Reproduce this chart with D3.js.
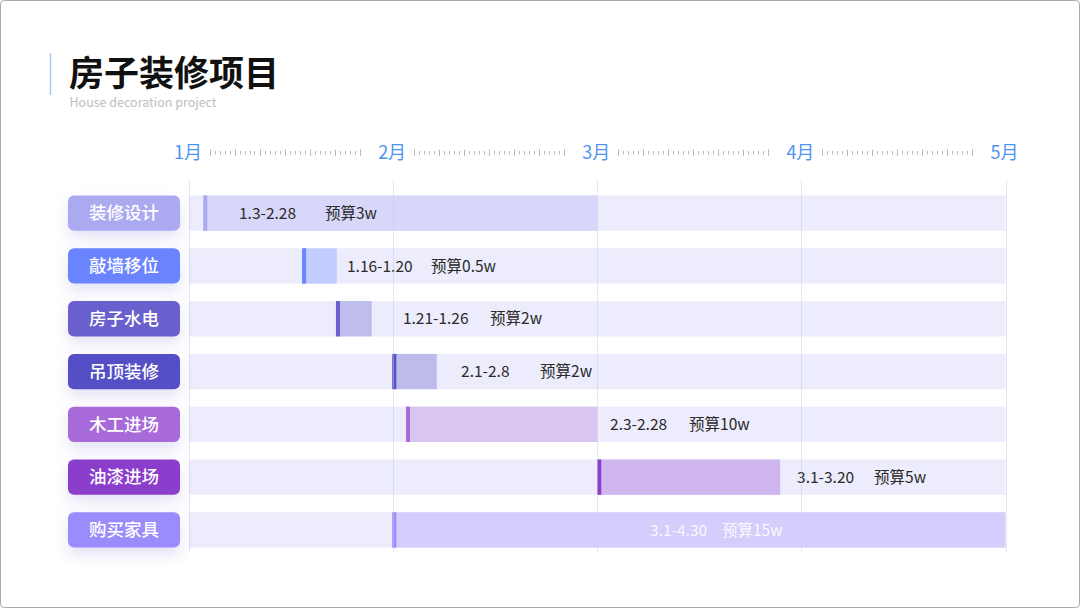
<!DOCTYPE html>
<html>
<head>
<meta charset="utf-8">
<script src="https://cdn.jsdelivr.net/npm/d3@7"></script>
<style>
  body { margin: 0; background: #fff; }
  svg { display: block; font-family: "Noto Sans CJK SC", "Noto Sans", sans-serif; }
</style>
</head>
<body>
<svg id="chart" width="1080" height="608"></svg>
<script>
// data
var tasks = ["装修设计", "敲墙移位", "房子水电", "吊顶装修", "木工进场", "油漆进场", "购买家具"];
// bar start / end in month units (1 = start of 1月)
var starts = [1.07, 1.554, 1.72, 1.996, 2.063, 3.0, 1.996];
var ends   = [3.0, 1.724, 1.895, 2.214, 3.0, 3.896, 5.0];
var dateLabels   = ["1.3-2.28", "1.16-1.20", "1.21-1.26", "2.1-2.8", "2.3-2.28", "3.1-3.20", "3.1-4.30"];
var budgetLabels = ["预算3w", "预算0.5w", "预算2w", "预算2w", "预算10w", "预算5w", "预算15w"];
// where each annotation piece starts, in month units
var dateAt   = [1.245, 1.774, 2.048, 2.333, 3.063, 3.979, 3.259];
var budgetAt = [1.666, 2.186, 2.475, 2.720, 3.450, 4.356, 3.611];
var months = ["1月", "2月", "3月", "4月", "5月"];

var tagColors = ["#aba9f0", "#6b84ff", "#6a60cd", "#5450c6", "#a86bd9", "#8b3ccb", "#9b8cfb"];
var barColors = ["#d8d7f9", "#c3ccff", "#bebdeb", "#bdbbea", "#d8c5f1", "#d0b6ee", "#d5cdfc"];

var svg = d3.select("#chart");

// outer frame
svg.append("rect")
    .attr("x", 0.5).attr("y", 0.5)
    .attr("width", 1079).attr("height", 607)
    .attr("rx", 4)
    .attr("fill", "#fff")
    .attr("stroke", "#a8a8a8");

var defs = svg.append("defs");
var shadow = defs.append("filter").attr("id", "shadow")
    .attr("x", "-30%").attr("y", "-40%").attr("width", "160%").attr("height", "220%");
shadow.append("feDropShadow")
    .attr("dx", 0).attr("dy", 7)
    .attr("stdDeviation", 7)
    .attr("flood-color", "#6a60cd")
    .attr("flood-opacity", 0.18);

// title block
svg.append("line")
    .attr("x1", 50.5).attr("x2", 50.5)
    .attr("y1", 53).attr("y2", 95)
    .attr("stroke", "#a9c8f7").attr("stroke-width", 1.5);

svg.append("text")
    .attr("x", 69).attr("y", 86)
    .attr("font-size", 35).attr("font-weight", 700)
    .attr("fill", "#111")
    .text("房子装修项目");

svg.append("text")
    .attr("x", 69.5).attr("y", 107)
    .attr("font-size", 12.5)
    .attr("fill", "#c0c0c0")
    .text("House decoration project");

// scales
var x = d3.scaleLinear().domain([1, 5]).range([189, 1005.5]);
var y = d3.scaleBand().domain(tasks).range([195.5, 547.6]).paddingInner(0.331).paddingOuter(0);

// month axis
var axis = svg.append("g").attr("class", "axis");

axis.selectAll("text.month")
    .data(months)
  .enter().append("text")
    .attr("class", "month")
    .attr("x", function(d, i) { return x(i + 1) - 1; })
    .attr("y", 158.5)
    .attr("text-anchor", "middle")
    .attr("font-size", 18)
    .attr("fill", "#4d94f3")
    .text(function(d) { return d; });

// small day ticks between the month labels
d3.range(1, 5).forEach(function(m) {
  var inner = d3.scaleLinear().domain([0, 30])
      .range([x(m) + 20.5, x(m) + 170.5]);
  axis.selectAll("line.tick-" + m)
      .data(d3.range(31))
    .enter().append("line")
      .attr("class", "tick-" + m)
      .attr("x1", function(d) { return Math.round(inner(d)) + 0.5; })
      .attr("x2", function(d) { return Math.round(inner(d)) + 0.5; })
      .attr("y1", function(d) { return d % 5 == 0 ? 149.5 : 151; })
      .attr("y2", function(d) { return d % 5 == 0 ? 156 : 154.5; })
      .attr("stroke", "#b8b8b8")
      .attr("stroke-width", 1);
});

// rows
var rows = svg.selectAll("g.row")
    .data(tasks)
  .enter().append("g")
    .attr("class", "row")
    .attr("transform", function(d) { return "translate(0," + y(d) + ")"; });

var h = y.bandwidth();

rows.append("rect")
    .attr("x", x(1))
    .attr("width", x(5) - x(1))
    .attr("height", h)
    .attr("fill", "#ececfc");

rows.append("rect")
    .attr("x", function(d, i) { return x(starts[i]); })
    .attr("width", function(d, i) { return x(ends[i]) - x(starts[i]); })
    .attr("height", h)
    .attr("fill", function(d, i) { return barColors[i]; });

rows.append("rect")
    .attr("x", function(d, i) { return x(starts[i]); })
    .attr("width", 4)
    .attr("height", h)
    .attr("fill", function(d, i) { return tagColors[i]; });

// task tags
rows.append("rect")
    .attr("x", 68)
    .attr("width", 112)
    .attr("height", h)
    .attr("rx", 6)
    .attr("fill", function(d, i) { return tagColors[i]; })
    .attr("filter", "url(#shadow)");

rows.append("text")
    .attr("x", 124)
    .attr("y", h / 2)
    .attr("dy", "0.36em")
    .attr("text-anchor", "middle")
    .attr("font-size", 17.5)
    .attr("font-weight", 500)
    .attr("fill", "#fff")
    .text(function(d) { return d; });

// annotations
var last = tasks.length - 1;
function noteFill(d, i) { return i == last ? "#ffffff" : "#2a2a2a"; }
function noteOpacity(d, i) { return i == last ? 0.9 : 1; }

rows.append("text")
    .attr("x", function(d, i) { return x(dateAt[i]); })
    .attr("y", h / 2)
    .attr("dy", "0.36em")
    .attr("font-size", 15.5)
    .attr("fill", noteFill)
    .attr("fill-opacity", noteOpacity)
    .text(function(d, i) { return dateLabels[i]; });

rows.append("text")
    .attr("x", function(d, i) { return x(budgetAt[i]); })
    .attr("y", h / 2)
    .attr("dy", "0.36em")
    .attr("font-size", 15.5)
    .attr("fill", noteFill)
    .attr("fill-opacity", noteOpacity)
    .text(function(d, i) { return budgetLabels[i]; });

// vertical month grid, drawn over the bars
svg.append("g").selectAll("line")
    .data(months)
  .enter().append("line")
    .attr("x1", function(d, i) { return Math.round(x(i + 1)) + 0.5; })
    .attr("x2", function(d, i) { return Math.round(x(i + 1)) + 0.5; })
    .attr("y1", 180)
    .attr("y2", 552)
    .attr("stroke", "#c8c8f0")
    .attr("stroke-opacity", 0.45);
</script>
</body>
</html>
